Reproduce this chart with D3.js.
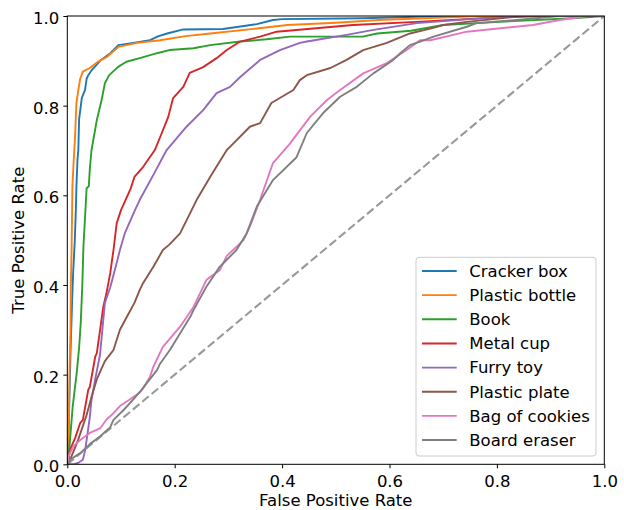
<!DOCTYPE html>
<html>
<head>
<meta charset="utf-8">
<script src="https://cdn.jsdelivr.net/npm/d3@7"></script>
<style>
  html, body { margin: 0; padding: 0; background: #fff; }
  svg { display: block; }
  text { font-family: "DejaVu Sans", sans-serif; fill: #000; }
</style>
</head>
<body>
<svg id="chart" width="624" height="510"></svg>
<script>
// ---- Data ----
const seriesNames = ["Cracker box", "Plastic bottle", "Book", "Metal cup", "Furry toy", "Plastic plate", "Bag of cookies", "Board eraser"];
const seriesColors = ["#1f77b4", "#ff7f0e", "#2ca02c", "#d62728", "#9467bd", "#8c564b", "#e377c2", "#7f7f7f"];

const crackerBox = [[0,0],[0.002,0.05],[0.004,0.15],[0.006,0.25],[0.009,0.366],[0.011,0.43],[0.014,0.5],[0.016,0.57],[0.017,0.62],[0.019,0.68],[0.0205,0.70],[0.022,0.77],[0.027,0.817],[0.033,0.835],[0.036,0.86],[0.039,0.868],[0.046,0.88],[0.061,0.90],[0.08,0.917],[0.095,0.935],[0.123,0.94],[0.154,0.946],[0.17,0.955],[0.186,0.961],[0.216,0.97],[0.29,0.971],[0.353,0.982],[0.383,0.991],[0.4,0.993],[0.55,0.995],[0.7,1],[1,1]];
const plasticBottle = [[0,0],[0.001,0.05],[0.003,0.1],[0.004,0.2],[0.006,0.3],[0.0065,0.39],[0.008,0.48],[0.0095,0.62],[0.012,0.68],[0.014,0.72],[0.017,0.806],[0.020,0.831],[0.024,0.86],[0.029,0.876],[0.042,0.884],[0.057,0.898],[0.074,0.909],[0.095,0.931],[0.13,0.94],[0.173,0.946],[0.22,0.955],[0.266,0.961],[0.353,0.972],[0.41,0.98],[0.5,0.985],[0.58,0.991],[0.77,1.0],[1,1]];
const book = [[0,0],[0.003,0.02],[0.005,0.054],[0.01,0.128],[0.0175,0.204],[0.022,0.26],[0.025,0.315],[0.028,0.4],[0.03,0.485],[0.033,0.55],[0.036,0.616],[0.04,0.62],[0.042,0.66],[0.045,0.70],[0.055,0.768],[0.064,0.813],[0.07,0.85],[0.078,0.868],[0.094,0.886],[0.11,0.898],[0.135,0.906],[0.167,0.917],[0.19,0.924],[0.235,0.928],[0.266,0.935],[0.322,0.943],[0.371,0.948],[0.415,0.954],[0.55,0.954],[0.577,0.961],[0.64,0.967],[0.7,0.98],[0.805,0.987],[0.94,0.995],[1,1]];
const metalCup = [[0,0],[0.002,0.01],[0.005,0.032],[0.015,0.06],[0.024,0.092],[0.029,0.099],[0.039,0.166],[0.042,0.173],[0.052,0.24],[0.055,0.248],[0.067,0.351],[0.073,0.382],[0.08,0.427],[0.086,0.478],[0.092,0.538],[0.1,0.567],[0.118,0.615],[0.125,0.641],[0.141,0.663],[0.163,0.701],[0.176,0.739],[0.188,0.775],[0.197,0.817],[0.216,0.842],[0.228,0.873],[0.253,0.886],[0.278,0.906],[0.297,0.924],[0.322,0.943],[0.359,0.954],[0.39,0.965],[0.458,0.972],[0.532,0.98],[0.65,0.987],[0.8,0.997],[0.9,1],[1,1]];
const furryToy = [[0,0],[0.01,0.0],[0.02,0.003],[0.029,0.01],[0.033,0.03],[0.036,0.054],[0.042,0.106],[0.045,0.143],[0.052,0.19],[0.061,0.245],[0.07,0.36],[0.08,0.395],[0.09,0.44],[0.098,0.478],[0.107,0.515],[0.126,0.567],[0.135,0.59],[0.16,0.645],[0.185,0.701],[0.222,0.753],[0.253,0.79],[0.278,0.828],[0.303,0.842],[0.322,0.864],[0.359,0.902],[0.396,0.924],[0.433,0.94],[0.446,0.943],[0.52,0.958],[0.57,0.969],[0.651,0.984],[0.75,0.993],[0.85,1],[1,1]];
const plasticPlate = [[0,0],[0.005,0.01],[0.012,0.03],[0.02,0.054],[0.036,0.11],[0.045,0.15],[0.055,0.19],[0.07,0.23],[0.086,0.255],[0.098,0.30],[0.111,0.329],[0.125,0.36],[0.135,0.389],[0.141,0.404],[0.16,0.44],[0.178,0.478],[0.19,0.49],[0.21,0.515],[0.241,0.59],[0.266,0.641],[0.297,0.701],[0.303,0.708],[0.34,0.753],[0.359,0.761],[0.38,0.806],[0.421,0.835],[0.433,0.857],[0.446,0.868],[0.49,0.884],[0.52,0.902],[0.551,0.924],[0.595,0.94],[0.638,0.961],[0.676,0.972],[0.7,0.98],[0.744,0.987],[0.85,1],[1,1]];
const bagOfCookies = [[0,0],[0.002,0.017],[0.011,0.04],[0.024,0.054],[0.042,0.07],[0.061,0.08],[0.073,0.1],[0.086,0.114],[0.098,0.13],[0.117,0.145],[0.135,0.16],[0.141,0.17],[0.154,0.195],[0.16,0.217],[0.178,0.262],[0.21,0.307],[0.235,0.351],[0.259,0.411],[0.266,0.418],[0.284,0.433],[0.297,0.465],[0.328,0.5],[0.34,0.53],[0.359,0.59],[0.383,0.672],[0.415,0.716],[0.452,0.775],[0.483,0.812],[0.508,0.835],[0.551,0.872],[0.595,0.895],[0.632,0.924],[0.657,0.946],[0.676,0.946],[0.744,0.965],[0.867,0.98],[0.917,0.991],[0.97,1],[1,1]];
const boardEraser = [[0,0],[0.005,0.01],[0.024,0.025],[0.042,0.045],[0.061,0.062],[0.08,0.083],[0.086,0.099],[0.104,0.12],[0.123,0.145],[0.141,0.17],[0.148,0.181],[0.167,0.21],[0.173,0.225],[0.191,0.255],[0.229,0.329],[0.235,0.344],[0.259,0.396],[0.284,0.441],[0.291,0.449],[0.315,0.478],[0.334,0.515],[0.353,0.575],[0.383,0.634],[0.427,0.685],[0.446,0.739],[0.476,0.783],[0.508,0.82],[0.539,0.842],[0.57,0.872],[0.607,0.902],[0.62,0.917],[0.638,0.935],[0.657,0.943],[0.682,0.954],[0.744,0.976],[0.762,0.984],[0.837,0.991],[0.917,1],[1,1]];

const seriesData = [crackerBox, plasticBottle, book, metalCup, furryToy, plasticPlate, bagOfCookies, boardEraser];
const diagonal = [[0,0],[1,1]];
const tickValues = [0, 0.2, 0.4, 0.6, 0.8, 1.0];
const xLabel = "False Positive Rate";
const yLabel = "True Positive Rate";

// ---- Layout ----
const mLeft = 67.3, mTop = 16, plotW = 537, plotH = 448.3;
const fs = 16.5;
const svg = d3.select("#chart");
const x = d3.scaleLinear().domain([0, 1]).range([mLeft, mLeft + plotW]);
const y = d3.scaleLinear().domain([0, 1]).range([mTop + plotH, mTop]);

svg.append("defs").append("clipPath").attr("id", "clip")
  .append("rect").attr("x", mLeft).attr("y", mTop).attr("width", plotW).attr("height", plotH);

const plot = svg.append("g").attr("clip-path", "url(#clip)");
const line = d3.line().x(d => x(d[0])).y(d => y(d[1]));

plot.append("path").datum(diagonal)
  .attr("d", line).attr("fill", "none")
  .attr("stroke", "#999999").attr("stroke-width", 2.1)
  .attr("stroke-dasharray", "8.5,3.7");

seriesData.forEach((s, i) => {
  plot.append("path").datum(s)
    .attr("d", line).attr("fill", "none")
    .attr("stroke", seriesColors[i]).attr("stroke-width", 1.9)
    .attr("stroke-linejoin", "round");
});

// ---- Axes ----
const fmt = d3.format(".1f");
const xAxis = svg.append("g").attr("transform", `translate(0,${mTop + plotH})`)
  .call(d3.axisBottom(x).tickValues(tickValues).tickFormat(fmt).tickSizeOuter(0).tickSize(4).tickPadding(4));
const yAxis = svg.append("g").attr("transform", `translate(${mLeft},0)`)
  .call(d3.axisLeft(y).tickValues(tickValues).tickFormat(fmt).tickSizeOuter(0).tickSize(4).tickPadding(4));
[xAxis, yAxis].forEach(a => {
  a.select(".domain").remove();
  a.selectAll(".tick line").attr("stroke", "#000").attr("stroke-width", 1);
  a.selectAll(".tick text").attr("font-size", fs).attr("font-family", "DejaVu Sans").attr("fill", "#000");
});
xAxis.selectAll(".tick text").attr("dy", null).attr("y", 23);
yAxis.selectAll(".tick text").attr("dy", null).attr("x", -8).attr("y", 7.6);

// spines
svg.append("rect").attr("x", mLeft).attr("y", mTop).attr("width", plotW).attr("height", plotH)
  .attr("fill", "none").attr("stroke", "#000").attr("stroke-width", 1);

// axis labels
svg.append("text").attr("x", mLeft + plotW / 2).attr("y", 506)
  .attr("text-anchor", "middle").attr("font-size", fs).text(xLabel);
svg.append("text").attr("transform", `translate(24,${mTop + plotH / 2}) rotate(-90)`)
  .attr("text-anchor", "middle").attr("font-size", fs).text(yLabel);

// ---- Legend ----
const lg = svg.append("g");
lg.append("rect").attr("x", 416).attr("y", 257.3).attr("width", 180).attr("height", 198.7)
  .attr("rx", 3).attr("fill", "#fff").attr("fill-opacity", 0.8)
  .attr("stroke", "#cccccc").attr("stroke-width", 1);
seriesNames.forEach((n, i) => {
  const yy = 271 + i * 24.15;
  lg.append("line").attr("x1", 422).attr("x2", 456.7).attr("y1", yy).attr("y2", yy)
    .attr("stroke", seriesColors[i]).attr("stroke-width", 1.9);
  lg.append("text").attr("x", 469.3).attr("y", yy + 5.8).attr("font-size", fs).text(n);
});
</script>
</body>
</html>
